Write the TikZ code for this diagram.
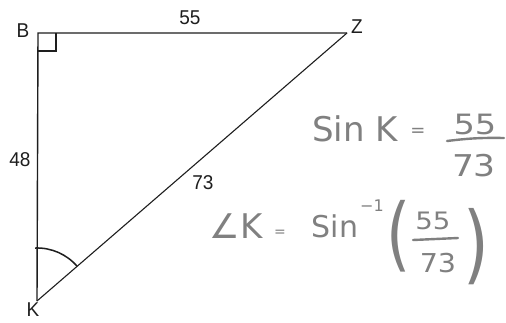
\documentclass[tikz,border=0pt]{standalone}
\usepackage{fontspec}
\usetikzlibrary{calc}
\setmainfont{Liberation Sans}
\newfontfamily\hand{DejaVu Sans}
\definecolor{pen}{RGB}{128,128,128}
\definecolor{ink}{RGB}{30,30,30}
\begin{document}
\begin{tikzpicture}[x=1pt,y=-1pt,
  side/.style={draw=ink,line width=1.4pt},
  lbl/.style={text=ink,font=\fontsize{20}{20}\selectfont,inner sep=0pt,xscale=0.95},
  hw/.style={text=pen,font=\hand,inner sep=0pt},
  hwline/.style={draw=pen,line width=2.4pt,line cap=round}]
\useasboundingbox (0,0) rectangle (506,322);
\fill[white] (0,0) rectangle (506,322);
% vertices
\coordinate (B) at (38,33);
\coordinate (Z) at (347,33);
\coordinate (K) at (37,301);
\draw[side] (K) -- (B) -- (Z);
\draw[draw=ink,line width=1.1pt] (K) -- (Z);
% right angle mark
\draw[draw=ink,line width=1.3pt] ($(B)+(0,18)$) -- ++(18,0) -- ++(0,-18);
% angle arc at K
\draw[draw=ink,line width=1.5pt] ($(K)+(-1.8,-53)$) arc[start angle=-92,end angle=-40.8,radius=53];
% labels
\node[lbl] (lB) at (23,31) {B};
\node[lbl] (lZ) at (357,27) {Z};
\node[lbl] (lK) at (33,310) {K};
\node[lbl] (l55) at (190,18) {55};
\node[lbl] (l48) at (20,160) {48};
\node[lbl] (l73) at (203,183) {73};
% handwriting line 1
\node[hw,font=\hand\fontsize{34}{34}\selectfont] (sink) at (355,129) {Sin K};
\node[hw,font=\hand\fontsize{18}{18}\selectfont] (eq1) at (418,132) {=};
\node[hw,font=\hand\fontsize{28}{28}\selectfont,xscale=1.2] (n1) at (475,124) {55};
\node[hw,font=\hand\fontsize{30}{30}\selectfont,xscale=1.15] (d1) at (474,166) {73};
\coordinate (b1a) at (447,141);
\coordinate (b1b) at (504,138);
\draw[hwline] (b1a) to[bend left=4] (b1b);
% handwriting line 2
\node[hw,font=\hand\fontsize{34}{34}\selectfont] (angK) at (236,226) {∠K};
\node[hw,font=\hand\fontsize{14}{14}\selectfont] (eq2) at (280,233) {=};
\node[hw,font=\hand\fontsize{30}{30}\selectfont] (sin2) at (335,226) {Sin};
\node[hw,font=\hand\fontsize{16}{16}\selectfont] (inv) at (372,206) {−1};
\node[hw,font=\hand\fontsize{62}{62}\selectfont,yscale=1.3] (lp) at (399,236) {(};
\node[hw,font=\hand\fontsize{24}{24}\selectfont,xscale=1.15] (n2) at (433,221) {55};
\node[hw,font=\hand\fontsize{26}{26}\selectfont,xscale=1.1] (d2) at (438,263) {73};
\coordinate (b2a) at (413,240);
\coordinate (b2b) at (458,238);
\draw[hwline] (b2a) -- (b2b);
\node[hw,font=\hand\fontsize{66}{66}\selectfont,yscale=1.3] (rp) at (476,247) {)};
\end{tikzpicture}
\end{document}
